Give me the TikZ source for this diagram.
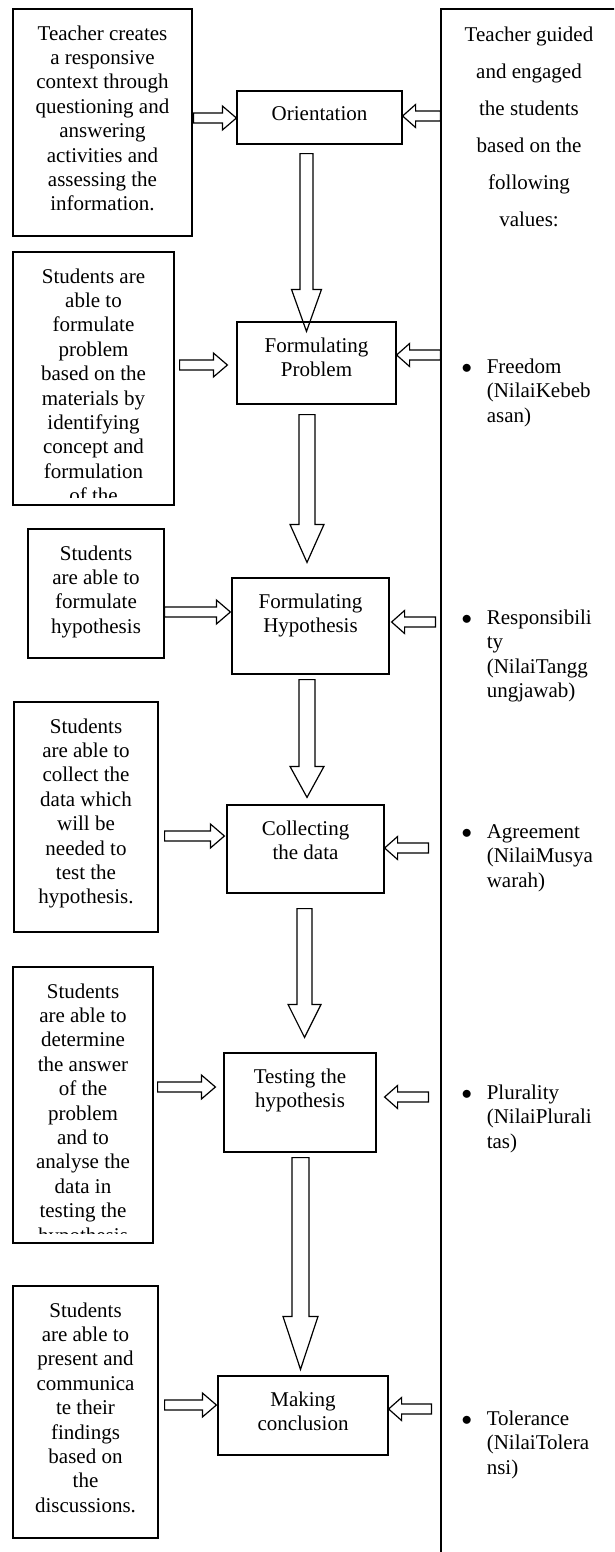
\documentclass[tikz,border=0pt]{standalone}
\usepackage{fontspec}
\setmainfont{Liberation Serif}
\usetikzlibrary{calc}

\newcommand{\hollow}[5]{%
  \coordinate (tail) at #1;
  \coordinate (tip) at #2;
  \coordinate (neck) at ($(tip)!#5pt!(tail)$);
  \draw[blk] ($(tail)!#3pt!90:(tip)$) -- ($(neck)!#3pt!90:(tip)$)
    -- ($(neck)!#4pt!90:(tip)$) -- (tip) -- ($(neck)!#4pt!-90:(tip)$)
    -- ($(neck)!#3pt!-90:(tip)$) -- ($(tail)!#3pt!-90:(tip)$) -- cycle;
}

\begin{document}
\begin{tikzpicture}[x=1pt, y=-1pt,
  box/.style={draw, line width=1.2pt, inner sep=0pt},
  txt/.style={align=center, inner sep=0pt, font=\fontsize{21}{24.4}\selectfont},
  item/.style={inner sep=0pt, font=\fontsize{21}{24.4}\selectfont},
  blk/.style={draw, line width=1.2pt}]
\useasboundingbox (0,0) rectangle (614,1552);
\clip (0,0) rectangle (614,1552);

\node[box, minimum width=176pt, minimum height=1591pt] (rbox) at (529,804.5) {};
\node[txt, anchor=north, font=\fontsize{21}{37}\selectfont] (rt) at ($(rbox.north)+(0,18)$)
  {Teacher guided\\and engaged\\the students\\based on the\\following\\values:};

\node[box, minimum width=179pt, minimum height=227pt] (l1) at (102.5,122.5) {};
\node[box, minimum width=161pt, minimum height=253pt] (l2) at (93.5,378.5) {};
\node[box, minimum width=136pt, minimum height=129pt] (l3) at (96,593.5) {};
\node[box, minimum width=144pt, minimum height=230pt] (l4) at (86,817) {};
\node[box, minimum width=140pt, minimum height=276pt] (l5) at (83,1105) {};
\node[box, minimum width=145pt, minimum height=252pt] (l6) at (85.5,1412) {};

\node[txt, anchor=north] (l1t) at ($(l1.north)+(0,17)$) {Teacher creates\\a responsive\\context through\\questioning and\\answering\\activities and\\assessing the\\information.};
\begin{scope}
\clip (l2.north west) rectangle ($(l2.south east)+(0,-8)$);
\node[txt, anchor=north] (l2t) at ($(l2.north)+(0,17)$) {Students are\\able to\\formulate\\problem\\based on the\\materials by\\identifying\\concept and\\formulation\\of the};
\end{scope}
\node[txt, anchor=north] (l3t) at ($(l3.north)+(0,17)$) {Students\\are able to\\formulate\\hypothesis};
\node[txt, anchor=north] (l4t) at ($(l4.north)+(0,17)$) {Students\\are able to\\collect the\\data which\\will be\\needed to\\test the\\hypothesis.};
\begin{scope}
\clip (l5.north west) rectangle ($(l5.south east)+(0,-10)$);
\node[txt, anchor=north] (l5t) at ($(l5.north)+(0,17)$) {Students\\are able to\\determine\\the answer\\of the\\problem\\and to\\analyse the\\data in\\testing the\\hypothesis};
\end{scope}
\node[txt, anchor=north] (l6t) at ($(l6.north)+(0,17)$) {Students\\are able to\\present and\\communica\\te their\\findings\\based on\\the\\discussions.};

\node[box, minimum width=165pt, minimum height=53pt] (or) at (319.5,117.5) {};
\node[box, minimum width=159pt, minimum height=82pt] (fp) at (316.5,363) {};
\node[box, minimum width=157pt, minimum height=96pt] (fh) at (310.5,626) {};
\node[box, minimum width=157pt, minimum height=88pt] (cd) at (305.5,849) {};
\node[box, minimum width=152pt, minimum height=99pt] (th) at (300,1102.5) {};
\node[box, minimum width=170pt, minimum height=79pt] (mc) at (303,1415.5) {};

\node[txt, anchor=north] (ort) at ($(or.north)+(0,16)$) {Orientation};
\node[txt, anchor=north] (fpt) at ($(fp.north)+(0,16)$) {Formulating\\Problem};
\node[txt, anchor=north] (fht) at ($(fh.north)+(0,16)$) {Formulating\\Hypothesis};
\node[txt, anchor=north] (cdt) at ($(cd.north)+(0,16)$) {Collecting\\the data};
\node[txt, anchor=north] (tht) at ($(th.north)+(0,16)$) {Testing the\\hypothesis};
\node[txt, anchor=north] (mct) at ($(mc.north)+(0,16)$) {Making\\conclusion};

\node[item, anchor=north west] (v1) at (461.5,356) {\begin{tabular}{@{}l@{\hspace{14.7pt}}l@{}}$\bullet$ & Freedom\\ & (NilaiKebeb\\ & asan)\end{tabular}};
\node[item, anchor=north west] (v2) at (461.5,607) {\begin{tabular}{@{}l@{\hspace{14.7pt}}l@{}}$\bullet$ & Responsibili\\ & ty\\ & (NilaiTangg\\ & ungjawab)\end{tabular}};
\node[item, anchor=north west] (v3) at (461.5,821) {\begin{tabular}{@{}l@{\hspace{14.7pt}}l@{}}$\bullet$ & Agreement\\ & (NilaiMusya\\ & warah)\end{tabular}};
\node[item, anchor=north west] (v4) at (461.5,1082) {\begin{tabular}{@{}l@{\hspace{14.7pt}}l@{}}$\bullet$ & Plurality\\ & (NilaiPlurali\\ & tas)\end{tabular}};
\node[item, anchor=north west] (v5) at (461.5,1408) {\begin{tabular}{@{}l@{\hspace{14.7pt}}l@{}}$\bullet$ & Tolerance\\ & (NilaiTolera\\ & nsi)\end{tabular}};

\foreach \p/\q/\dx/\dt/\dy in {l1/or/1/0/0.5, l2/fp/5/-9/2, l3/fh/0/-1/-14, l4/cd/6/-2/-13, l5/th/4/-8/-15.5, l6/mc/6/-1/-10.5}
  \hollow{($(\p.east |- \q.west)+(\dx,\dy)$)}{($(\q.west)+(\dt,\dy)$)}{5}{12}{14};
\foreach \q/\dx/\dt/\dy in {or/0/0/-1.5, fp/0/0/-8, fh/-5/2/-4, cd/-12/0/-1, th/-12/8/-5.5, mc/-9/0/-6.5}
  \hollow{($(rbox.west |- \q.east)+(\dx,\dy)$)}{($(\q.east)+(\dt,\dy)$)}{5}{11.5}{13};
\foreach \p/\q/\dx/\dt/\db/\w/\hw/\hl in {or/fp/-13/9/10/6.5/15/42, fp/fh/-9.5/10/-15/8/17/38, fh/cd/-3.5/5/-7/8/17/31, cd/th/-1/15/-15/7.5/16.5/33, th/mc/0.5/5/-6/8.5/17.5/53}
  \hollow{($(\p.south)+(\dx,\dt)$)}{($(\p.south |- \q.north)+(\dx,\db)$)}{\w}{\hw}{\hl};
\end{tikzpicture}
\end{document}
